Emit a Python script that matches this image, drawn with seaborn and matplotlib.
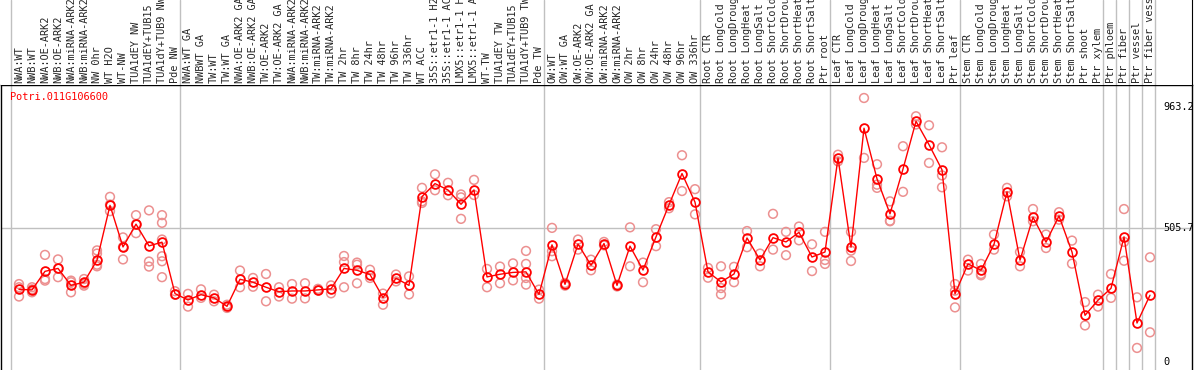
import numpy as np
import pandas as pd
import seaborn as sns
import matplotlib.pyplot as plt

samples = [
    'NWA:WT', 'NWB:WT', 'NWA:OE-ARK2', 'NWB:OE-ARK2', 'NWA:miRNA-ARK2', 'NWB:miRNA-ARK2',
    'NW 0hr', 'WT H2O', 'WT-NW', 'TUA1dEY NW', 'TUA1dEY+TUB15', 'TUA1dY+TUB9 NW', 'Pde NW',
    'NWA:WT GA', 'NWBWT GA', 'TW:WT', 'TW:WT GA', 'NWA:OE-ARK2 GA', 'NWB:OE-ARK2 GA',
    'TW:OE-ARK2', 'TW:OE-ARK2 GA', 'NWA:miRNA-ARK2', 'NWB:miRNA-ARK2', 'TW:miRNA-ARK2',
    'TW:miRNA-ARK2', 'TW 2hr', 'TW 8hr', 'TW 24hr', 'TW 48hr', 'TW 96hr', 'TW 336hr', 'WT ACC',
    '35S::etr1-1 H2O', '35S::etr1-1 ACC', 'LMX5::etr1-1 H2O', 'LMX5::etr1-1 ACC', 'WT-TW',
    'TUA1dEY TW', 'TUA1dEY+TUB15', 'TUA1dY+TUB9 TW', 'Pde TW',
    'OW:WT', 'OW:WT GA', 'OW:OE-ARK2', 'OW:OE-ARK2 GA', 'OW:miRNA-ARK2', 'OW:miRNA-ARK2',
    'OW 2hr', 'OW 8hr', 'OW 24hr', 'OW 48hr', 'OW 96hr', 'OW 336hr',
    'Root CTR', 'Root LongCold', 'Root LongDrought', 'Root LongHeat', 'Root LongSalt',
    'Root ShortCold', 'Root ShortDrought', 'Root ShortHeat', 'Root ShortSalt', 'Ptr root',
    'Leaf CTR', 'Leaf LongCold', 'Leaf LongDrought', 'Leaf LongHeat', 'Leaf LongSalt',
    'Leaf ShortCold', 'Leaf ShortDrought', 'Leaf ShortHeat', 'Leaf ShortSalt', 'Ptr leaf',
    'Stem CTR', 'Stem LongCold', 'Stem LongDrought', 'Stem LongHeat', 'Stem LongSalt',
    'Stem ShortCold', 'Stem ShortDrought', 'Stem ShortHeat', 'Stem ShortSalt', 'Ptr shoot',
    'Ptr xylem', 'Ptr phloem', 'Ptr fiber', 'Ptr vessel', 'Ptr fiber vessel',
]
group_sizes = [13, 28, 12, 10, 10, 11, 1, 1, 1, 1]

means = [
    274, 272, 342, 353, 289, 301, 384, 591, 434, 520, 438, 452, 258,
    234, 254, 242, 210, 312, 301, 282, 265, 268, 268, 272, 276, 353, 346, 330, 243,
    316, 289, 624, 673, 649, 595, 649, 321, 331, 338, 340, 255,
    442, 293, 445, 365, 447, 289, 437, 347, 472, 593, 711, 603,
    340, 302, 332, 468, 385, 469, 453, 489, 396, 415,
    770, 433, 882, 691, 559, 728, 908, 820, 725, 257,
    370, 346, 444, 642, 384, 546, 452, 551, 415, 176, 233,
    278, 472, 147, 252,
]

reps = [
    [294, 282, 247], [282, 274, 263], [404, 313, 307], [387, 353, 320], [307, 301, 263],
    [313, 294, 288], [421, 409, 367, 361], [623, 594, 569], [470, 434, 387], [554, 520, 486],
    [572, 379, 360], [554, 525, 462, 399, 380, 320], [267, 254],
    [257, 209], [274, 242], [254, 229], [216, 204], [345, 282], [317, 284], [332, 229],
    [282, 247], [294, 239], [297, 240], [276, 270], [289, 259], [400, 377, 282],
    [375, 367, 297], [348, 317], [258, 216], [330, 304], [323, 255], [657, 606, 600],
    [708, 648], [676, 629], [632, 621, 540], [687, 630], [351, 282], [360, 297], [372, 308],
    [419, 370, 317, 292], [273, 239],
    [506, 418, 399], [298, 288], [462, 424], [386, 346], [453, 440], [292, 285], [508, 361],
    [375, 301], [501, 437], [603, 580], [780, 645], [652, 557],
    [355, 318], [361, 279, 255], [359, 301], [494, 433], [409, 361], [559, 424], [491, 403],
    [511, 459], [444, 343], [491, 385, 370],
    [782, 757], [491, 420, 381], [996, 770], [746, 669, 657], [606, 533, 531], [814, 642],
    [927, 896], [893, 751], [810, 704, 659], [294, 269, 206],
    [386, 345], [370, 332, 327], [481, 424], [657, 625], [415, 361], [577, 531], [481, 430],
    [565, 537], [458, 371], [226, 138], [254, 209],
    [332, 242], [577, 453, 382], [244, 53], [395, 112],
]

gene = 'Potri.011G106600'
ref_labels = [963.2, 505.7, 0]
ref_line = 505.7

mean_df = pd.DataFrame({'pos': np.arange(len(samples)), 'value': means})
rep_df = pd.DataFrame(
    [(i, v) for i, vals in enumerate(reps) for v in vals], columns=['pos', 'value'])

sns.set_style('white')
plt.rcParams['font.family'] = ['DejaVu Sans Mono']

W, H = 1194, 370
fig = plt.figure(figsize=(W / 100, H / 100), dpi=100)
hdr_px = 85
ax = fig.add_axes([1 / W, 0, 1191 / W, (H - hdr_px) / H])
hx = fig.add_axes([1 / W, (H - hdr_px) / H, 1191 / W, hdr_px / H], sharex=ax)

xmin, xmax = (1 - 19) / 13, (1192 - 19) / 13
ax.set_xlim(xmin, xmax)
ax.set_ylim(-30.2, 1045)
hx.set_ylim(0, hdr_px)

# group separators
bounds = np.concatenate([[0], np.cumsum(group_sizes)]) - 0.58
for b in bounds:
    ax.axvline(b, color='#c0c0c0', lw=1, zorder=0)
    hx.axvline(b, color='#c0c0c0', lw=1, zorder=0)
ax.axhline(ref_line, color='#c0c0c0', lw=1, zorder=0)

sns.scatterplot(data=rep_df, x='pos', y='value', ax=ax, marker='o', s=40,
                facecolor='none', edgecolor='#ec9090', linewidth=1.1, zorder=2,
                legend=False)
sns.lineplot(data=mean_df, x='pos', y='value', ax=ax, color='red', lw=1.0,
             marker='o', markersize=6.3, markerfacecolor='none',
             markeredgecolor='red', markeredgewidth=1.3, zorder=3)

for v in ref_labels:
    ax.text(88.0, v, f'{v:g}' if v == 0 else f'{v}', fontsize=7.4, va='center',
            ha='left', color='black')

for i, s in enumerate(samples):
    hx.text(i, 2, s, rotation=90, ha='center', va='bottom', fontsize=7.4,
            clip_on=True)

fig.text(10 / W, 1 - 97 / H, gene, color='red', fontsize=7.4, va='center', ha='left')

for a in (ax, hx):
    a.set_xticks([])
    a.set_yticks([])
    a.set_xlabel('')
    a.set_ylabel('')
ax.spines['bottom'].set_visible(False)
for k in ('left', 'right', 'top'):
    ax.spines[k].set_color('black')
    ax.spines[k].set_linewidth(1)
hx.spines['top'].set_visible(False)
hx.spines['left'].set_visible(False)
hx.spines['bottom'].set_visible(False)
hx.spines['right'].set_color('black')

fig.savefig('out.png', dpi=100)
